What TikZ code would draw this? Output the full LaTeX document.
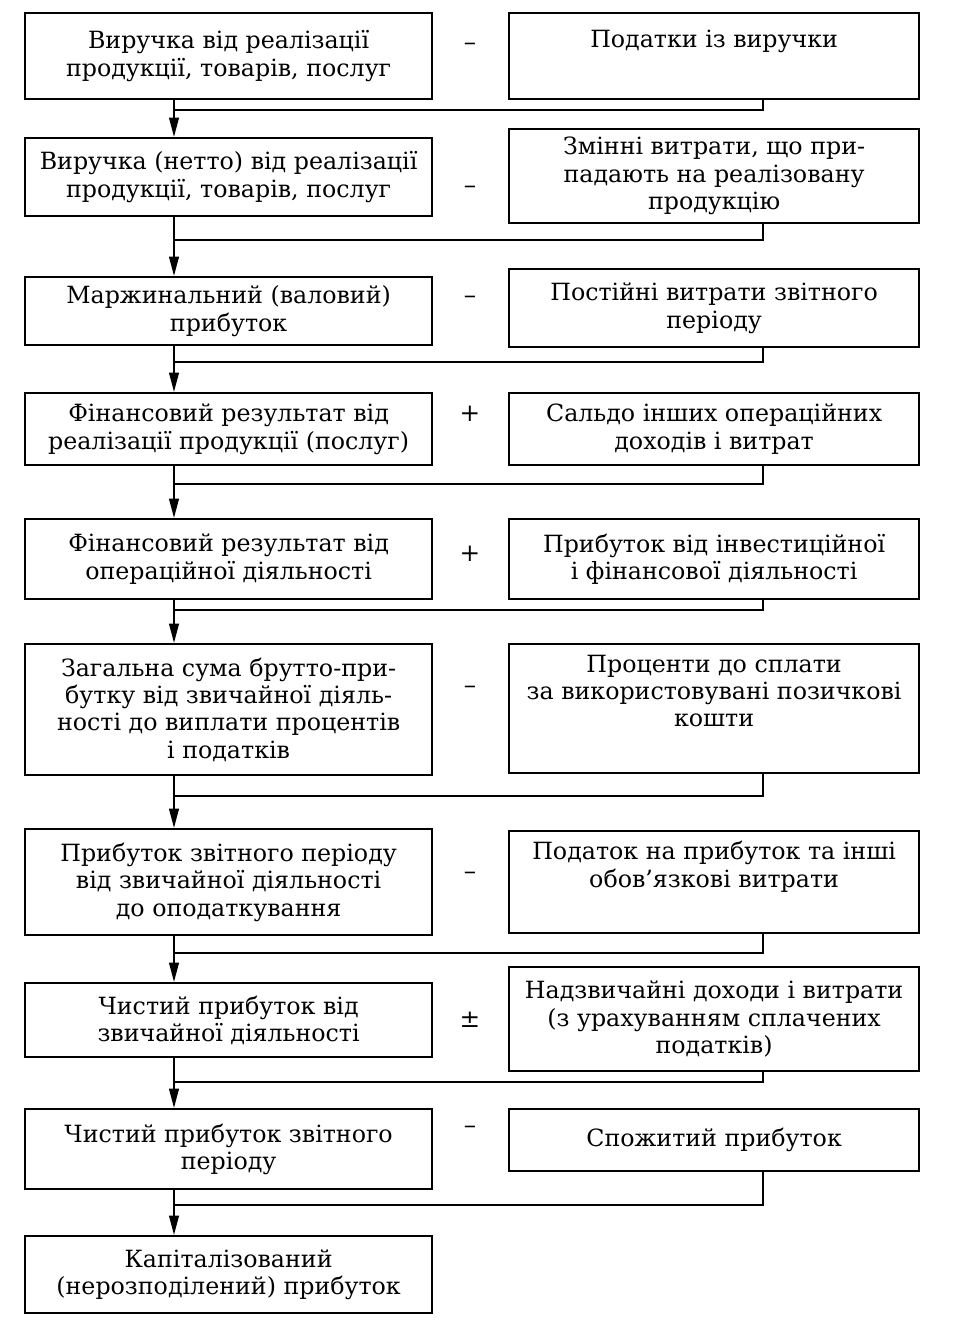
\documentclass[tikz,border=0pt]{standalone}
\usepackage{fontspec}
\setmainfont{DejaVu Serif}
\usetikzlibrary{arrows.meta}

\begin{document}
\begin{tikzpicture}[x=0.02cm, y=-0.02cm,
  every node/.style={font=\fontsize{13.5}{15.6}\selectfont},
  lbox/.style={draw, line width=1.3pt, anchor=north west, minimum width=8.14cm, align=center, inner sep=2pt},
  rbox/.style={draw, line width=1.3pt, anchor=north west, minimum width=8.2cm, align=center, inner sep=2pt},
  sgn/.style={font=\fontsize{14}{16}\selectfont},
  conn/.style={line width=1.1pt},
  arr/.style={conn, -{Triangle[length=11pt,width=5.5pt]}}]
\useasboundingbox (0,0) rectangle (969,1325);
% left column
\node[lbox, minimum height=1.72cm] (l1) at (24,12) {Виручка від реалізації\\продукції, товарів, послуг};
\node[lbox, minimum height=1.56cm] (l2) at (24,137) {Виручка (нетто) від реалізації\\продукції, товарів, послуг};
\node[lbox, minimum height=1.36cm] (l3) at (24,276) {Маржинальний (валовий)\\прибуток};
\node[lbox, minimum height=1.44cm] (l4) at (24,392) {Фінансовий результат від\\реалізації продукції (послуг)};
\node[lbox, minimum height=1.6cm] (l5) at (24,518) {Фінансовий результат від\\операційної діяльності};
\node[lbox, minimum height=2.62cm] (l6) at (24,643) {Загальна сума брутто-при-\\бутку від звичайної діяль-\\ності до виплати процентів\\і податків};
\node[lbox, minimum height=2.12cm] (l7) at (24,828) {Прибуток звітного періоду\\від звичайної діяльності\\до оподаткування};
\node[lbox, minimum height=1.48cm] (l8) at (24,982) {Чистий прибуток від\\звичайної діяльності};
\node[lbox, minimum height=1.6cm] (l9) at (24,1108) {Чистий прибуток звітного\\періоду};
\node[lbox, minimum height=1.54cm] (l10) at (24,1235) {Капіталізований\\(нерозподілений) прибуток};
% right column
\node[rbox, minimum height=1.72cm] (r1) at (508,12) {Податки із виручки\\ \strut};
\node[rbox, minimum height=1.88cm] (r2) at (508,128) {Змінні витрати, що при-\\падають на реалізовану\\продукцію};
\node[rbox, minimum height=1.56cm] (r3) at (508,268) {Постійні витрати звітного\\періоду};
\node[rbox, minimum height=1.44cm] (r4) at (508,392) {Сальдо інших операційних\\доходів і витрат};
\node[rbox, minimum height=1.6cm] (r5) at (508,518) {Прибуток від інвестиційної\\і фінансової діяльності};
\node[rbox, minimum height=2.58cm] (r6) at (508,643) {Проценти до сплати\\за використовувані позичкові\\кошти\\ \strut};
\node[rbox, minimum height=2.04cm] (r7) at (508,830) {Податок на прибуток та інші\\обов’язкові витрати\\ \strut};
\node[rbox, minimum height=2.08cm] (r8) at (508,966) {Надзвичайні доходи і витрати\\(з урахуванням сплачених\\податків)};
\node[rbox, minimum height=1.24cm] (r9) at (508,1108) {Спожитий прибуток};
% signs
\node[sgn] (s1) at (470,47) {–};
\node[sgn] (s2) at (470,190) {–};
\node[sgn] (s3) at (470,300) {–};
\node[sgn] (s4) at (470,414) {+};
\node[sgn] (s5) at (470,554) {+};
\node[sgn] (s6) at (470,690) {–};
\node[sgn] (s7) at (470,876) {–};
\node[sgn] (s8) at (470,1020) {±};
\node[sgn] (s9) at (470,1130) {–};
% connectors
\coordinate (lx) at (174,0);
\coordinate (rx) at (763,0);
\coordinate (j1) at (174,110);
\coordinate (j2) at (174,240);
\coordinate (j3) at (174,362);
\coordinate (j4) at (174,484);
\coordinate (j5) at (174,610);
\coordinate (j6) at (174,796);
\coordinate (j7) at (174,953);
\coordinate (j8) at (174,1082);
\coordinate (j9) at (174,1205);
\draw[conn] (r1.south -| rx) |- (j1);
\draw[arr] (l1.south -| lx) -- (l2.north -| lx);
\draw[conn] (r2.south -| rx) |- (j2);
\draw[arr] (l2.south -| lx) -- (l3.north -| lx);
\draw[conn] (r3.south -| rx) |- (j3);
\draw[arr] (l3.south -| lx) -- (l4.north -| lx);
\draw[conn] (r4.south -| rx) |- (j4);
\draw[arr] (l4.south -| lx) -- (l5.north -| lx);
\draw[conn] (r5.south -| rx) |- (j5);
\draw[arr] (l5.south -| lx) -- (l6.north -| lx);
\draw[conn] (r6.south -| rx) |- (j6);
\draw[arr] (l6.south -| lx) -- (l7.north -| lx);
\draw[conn] (r7.south -| rx) |- (j7);
\draw[arr] (l7.south -| lx) -- (l8.north -| lx);
\draw[conn] (r8.south -| rx) |- (j8);
\draw[arr] (l8.south -| lx) -- (l9.north -| lx);
\draw[conn] (r9.south -| rx) |- (j9);
\draw[arr] (l9.south -| lx) -- (l10.north -| lx);
\end{tikzpicture}
\end{document}
